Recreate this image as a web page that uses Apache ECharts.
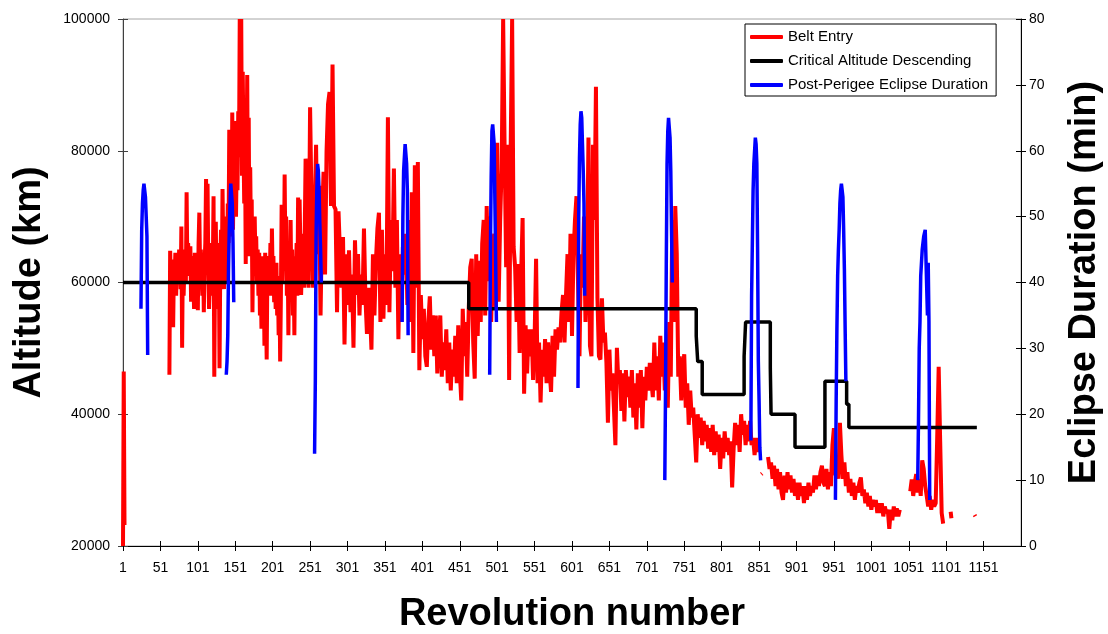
<!DOCTYPE html>
<html>
<head>
<meta charset="utf-8">
<script src="https://cdn.jsdelivr.net/npm/echarts@6/dist/echarts.min.js"></script>
<style>
  html, body { margin: 0; padding: 0; background: #ffffff; }
  #chart { width: 1108px; height: 634px; }
</style>
</head>
<body>
<div id="chart"></div>
<script>
// ---- Revolution axis tick labels ----
const revTicks = [1, 51, 101, 151, 201, 251, 301, 351, 401, 451, 501, 551, 601, 651, 701,
  751, 801, 851, 901, 951, 1001, 1051, 1101, 1151];

// ---- Belt Entry altitude (km); each run starts at a revolution and advances by its step ----
const beltRunA = { start: 1, step: 1 };
const beltA = [20000, 46500, 23200];

const beltRunB = { start: 63, step: 1 };
const beltB = [
  46000, 64800, 60000, 57000, 63500, 53200, 62000, 61000, 64500, 58000,
  63000, 61000, 60000, 65000, 62000, 59000, 68500, 50100, 64000, 58000,
  62000, 65000, 60000, 73700, 62000, 66000, 63000, 61000, 65500, 57100,
  64000, 62000, 60000, 56000, 64500, 62000, 59500, 64500, 55800, 66000,
  70600, 62000, 65000, 61000, 58000, 64000, 55500, 63000, 66000, 75700,
  64000, 75000, 62000, 56000, 60000, 64000, 58000, 66000, 62000, 73100,
  45700, 62000, 69200, 58000, 64000, 56000, 66000, 47000, 63000, 68000,
  60000, 74200, 65000, 59000, 70000, 63000, 68000, 60000, 72000, 66000,
  83200, 70000, 78000, 67000, 85800, 68000, 80000, 72000, 84500, 70000,
  79000, 74000, 86000, 79000, 100000, 84000, 100000, 76200, 92000, 80900,
  72000, 82000, 62800, 78000, 91500, 70000, 85000, 64000, 77500, 66000,
  72600, 55500, 68000, 61000, 70000, 63000, 67000, 60000, 65000, 58000,
  64500, 55000, 62000, 53000, 64000, 58000, 62000, 50400, 64500, 57000,
  48300, 63000, 59000, 64000, 60000, 66000, 58000, 68200, 61000, 64000,
  57000, 62000, 56000, 63000, 55000, 60000, 52000, 61000, 48000, 58000,
  71800, 60000, 66000, 62000, 76400, 64000, 70000, 58000, 66000, 52000,
  64000, 60000, 69500, 58000, 65000, 55000, 63000, 52000, 64000, 60000,
  66000, 58000, 72900, 62000
];

const beltRunC = { start: 237, step: 2 };
const beltC = [
  72600, 58100, 67400, 59200, 78800, 64300, 59200, 86600, 71600, 59200,
  69500, 80900, 64300, 74700, 55000, 69500, 76800, 61200, 79900, 87100,
  88900, 71600, 93100, 71600, 71100, 55500, 70800, 64300, 59200, 66900,
  50600, 64300, 56600, 64900, 55500, 61200, 50100, 66400, 58100, 64300,
  55000, 61200, 56600, 68200, 57600, 52200, 59200, 56000, 49800, 64300,
  55000, 63300, 68200, 70600, 54000, 68000, 54500, 64300, 56600, 85100,
  55500, 69500, 61700, 77300, 59200, 69500, 51400, 64300, 54000, 65400,
  61200, 67400, 56600, 69500, 54000, 73700, 49300, 77800, 59200, 78300,
  46700, 58100, 51400, 56000, 48800, 47200, 54000, 57900, 49800, 55000,
  48800, 55000, 46200, 51900, 55000, 45700, 50900, 46700, 52900, 44700,
  50900, 43600, 49800, 45700, 51900, 44700, 53500, 46700, 42100, 56000,
  48800, 54000, 45700, 56000, 62300, 63600, 50900
];

const beltRunD = { start: 471, step: 2 };
const beltD = [
  45400, 64300, 51900, 63300, 54000, 65900, 69500, 55000, 71600, 60200,
  70000, 54000, 64300, 67400, 56000, 81200, 57100, 69500, 77300, 100000,
  79900, 62300, 80900, 45200, 79900, 100000, 65400, 62300, 54000, 62800,
  49300, 61200, 69800, 43100, 53500, 46200, 52900, 48800, 52900, 45200,
  51400, 63600, 44700, 50900, 41800, 49800, 45700, 51400, 44700, 50900,
  46700, 43400, 51900, 45700, 52900, 49800, 53200, 50900, 55500, 58100,
  50900, 58100, 64300, 54000, 67400, 51900, 64300, 69500, 73100, 60200,
  48800, 64300, 59200, 70000, 54000, 61200, 82000, 50400, 48800, 80900,
  69500, 89700, 57600, 48800, 48300, 57600, 50900, 52400, 47800, 38700,
  49800, 43600, 46200, 41000, 35300, 50100, 44700, 46700, 40500, 46200,
  38900, 46700, 42600, 45700, 41000, 46700, 39500, 44700, 37700, 46200,
  41000, 46700, 37900, 45700, 42100, 47200, 43600, 47800
];

const beltRunE = { start: 707, step: 2 };
const beltE = [
  47800, 42600, 50900, 43600, 48800, 42100, 51900, 45700, 50900, 43600,
  48800, 41000, 54000, 45700, 69500, 54000, 71600, 64300, 45700, 48800,
  42100, 46700, 49100, 41000, 44700, 38400, 43600, 39500, 41000, 36900,
  32700, 40000, 36400, 39500, 35300, 39000, 35900, 38400, 34800, 37900,
  34300, 38400, 33800, 37400, 34300, 36900, 31700, 36400, 33300, 37400,
  34300, 36400, 33800, 35900, 28900, 34800, 38700, 35300, 38400, 34300,
  40000, 36900, 39000, 35300, 38400, 35900, 39000, 35300, 36400, 33800,
  36400, 34300, 35300
];

const beltRunF = { start: 854, step: 1 };
const beltF = [30900, 31000];

const beltRunG = { start: 863, step: 2 };
const beltG = [
  33500, 31700, 32700, 30200, 32200, 29100, 31700, 28600, 31200, 28100,
  27000, 30700, 28100, 31200, 28600, 30700, 28100, 30200, 27600, 29600,
  27000, 29600, 27600, 29100, 26500, 29100, 27000, 29600, 27600, 29100,
  28100, 30700, 28600, 30700, 29100, 31200, 32200, 29600
];

const beltRunH = { start: 939, step: 2 };
const beltH = [
  29100, 31700, 28600, 31200, 29100, 35300, 37900, 30700, 33300, 30200,
  38700, 33800, 30200, 32700, 29100, 31200, 28100, 30200, 27600, 29600,
  27000, 29100, 28100, 29600, 30400, 27600, 28600, 26500, 28100, 26000,
  27600, 25500, 27000, 26000, 27000, 25000, 26500, 25000, 26500, 24500,
  26000, 25000, 25500, 22600, 25500, 23900, 26000, 24500, 25700, 24500,
  25500
];

const beltRunI = { start: 1053, step: 2 };
const beltI = [
  28300, 30100, 27600, 29600, 30900, 28100, 30100, 27600, 33000, 31700,
  29100, 27600, 26000, 27600, 25500, 27000, 26000, 26500, 36400, 47200,
  35900, 25000, 23400
];

const beltRunJ = { start: 1107, step: 1 };
const beltJ = [25200, 24200];

const beltRunK = { start: 1139, step: 1 };
const beltK = [24700, 24500];

// ---- Critical Altitude Descending: [revolution where the level starts, altitude km] ----
const criticalRevs = [1, 463, 767, 769, 775, 831, 833, 866, 867, 899, 939, 968, 971, 1142];
const criticalAlt = [60000, 56000, 51900, 48000, 43000, 48800, 54000, 47000, 40000, 35000, 45000, 41500, 38000, 38000];

// ---- Post-Perigee Eclipse Duration (min), one run per eclipse season ----
const eclipseStarts = [25, 139, 257, 374, 491, 609, 725, 840, 953, 1063];
const eclipse1 = [36, 48, 52, 54, 55, 55, 53, 50, 47, 29];
const eclipse2 = [26, 28, 32, 42, 48, 52, 55, 55, 52, 46, 37];
const eclipse3 = [14, 25, 47, 54, 58, 57, 54, 49, 45, 40];
const eclipse4 = [34, 50, 57, 59, 61, 61, 58, 54, 32];
const eclipse5 = [26, 45, 56, 63, 64, 64, 61, 52, 43, 34];
const eclipse6 = [24, 50, 59, 64, 66, 65, 61, 57, 52, 38];
const eclipse7 = [10, 24, 43, 58, 63, 65, 65, 62, 57, 48, 40];
const eclipse8 = [16, 38, 46, 54, 58, 60, 62, 61, 58, 45, 28, 22, 15, 13];
const eclipse9 = [7, 22, 33, 41, 45, 48, 52, 54, 55, 54, 53, 48, 42, 33, 25];
const eclipse10 = [10, 19, 30, 34, 41, 43, 45, 46, 47, 47, 48, 48, 48, 35, 43, 34, 7];

// ---- build [rev, value] pairs, breaking the line across missing revolutions ----
function runsToPoints(runs) {
  const pts = [];
  let lastRev = null;
  runs.forEach(([run, values]) => {
    if (lastRev !== null && run.start - lastRev > 2) pts.push([lastRev + 1, null]);
    values.forEach((v, i) => {
      const rev = run.start + i * run.step;
      pts.push([rev, v]);
      lastRev = rev;
    });
  });
  return pts;
}

const beltPoints = runsToPoints([
  [beltRunA, beltA], [beltRunB, beltB], [beltRunC, beltC], [beltRunD, beltD],
  [beltRunE, beltE], [beltRunF, beltF], [beltRunG, beltG], [beltRunH, beltH],
  [beltRunI, beltI], [beltRunJ, beltJ], [beltRunK, beltK]
]);

const eclipseRuns = [eclipse1, eclipse2, eclipse3, eclipse4, eclipse5,
  eclipse6, eclipse7, eclipse8, eclipse9, eclipse10];
const eclipsePoints = runsToPoints(eclipseRuns.map((vals, k) => [{ start: eclipseStarts[k], step: 1 }, vals]));

const criticalPoints = criticalRevs.map((r, i) => [r, criticalAlt[i]]);

const FONT = '"Liberation Sans", Arial, sans-serif';
const REV_MIN = 1, REV_MAX = 1201;

const chart = echarts.init(document.getElementById('chart'), null, { renderer: 'canvas' });

const plain = v => String(v);
const tickLabel = { fontFamily: FONT, fontSize: 14, color: '#000', formatter: plain };
const titleStyle = { fontFamily: FONT, fontSize: 38, fontWeight: 'bold', color: '#000' };

chart.setOption({
  animation: false,
  backgroundColor: '#ffffff',
  grid: {
    left: 123, right: 87, top: 19, bottom: 88,
    containLabel: false, outerBoundsMode: 'none',
    show: true, borderColor: '#a6a6a6', borderWidth: 1, backgroundColor: '#ffffff'
  },
  legend: {
    orient: 'vertical',
    left: 745, top: 24,
    padding: [5, 8, 3, 5],
    itemGap: 8,
    itemWidth: 33, itemHeight: 4,
    icon: 'roundRect',
    backgroundColor: '#ffffff',
    borderColor: '#000000', borderWidth: 1,
    textStyle: { fontFamily: FONT, fontSize: 15, color: '#000', lineHeight: 16 },
    data: ['Belt Entry', 'Critical Altitude Descending', 'Post-Perigee Eclipse Duration']
  },
  xAxis: [
    {
      type: 'value', min: REV_MIN, max: REV_MAX,
      name: 'Revolution number', nameLocation: 'middle', nameGap: 50,
      nameTextStyle: titleStyle,
      splitLine: { show: false },
      axisLine: { show: true, lineStyle: { color: '#000', width: 1 } },
      axisTick: { show: true, length: 5, lineStyle: { color: '#000' }, customValues: revTicks },
      axisLabel: { ...tickLabel, margin: 15, customValues: revTicks }
    },
    {
      type: 'value', min: REV_MIN, max: REV_MAX, position: 'bottom',
      splitLine: { show: false }, axisLine: { show: false }, axisLabel: { show: false },
      axisTick: { show: true, inside: true, length: 5, lineStyle: { color: '#000' }, customValues: revTicks }
    }
  ],
  yAxis: [
    {
      type: 'value', min: 20000, max: 100000, interval: 20000, position: 'left',
      name: 'Altitude (km)', nameLocation: 'middle', nameGap: 74, nameRotate: 90,
      nameTextStyle: titleStyle,
      splitLine: { show: false },
      axisLine: { show: true, lineStyle: { color: '#404040', width: 1 } },
      axisTick: { show: true, length: 5, lineStyle: { color: '#404040' } },
      axisLabel: { ...tickLabel, margin: 13 }
    },
    {
      type: 'value', min: 0, max: 80, interval: 10, position: 'right',
      name: 'Eclipse Duration (min)', nameLocation: 'middle', nameGap: 45, nameRotate: 90,
      nameTextStyle: titleStyle,
      splitLine: { show: false },
      axisLine: { show: true, lineStyle: { color: '#000', width: 1 } },
      axisTick: { show: true, length: 5, lineStyle: { color: '#000' } },
      axisLabel: { ...tickLabel, margin: 8 }
    },
    {
      type: 'value', min: 20000, max: 100000, interval: 20000, position: 'left',
      splitLine: { show: false }, axisLine: { show: false }, axisLabel: { show: false },
      axisTick: { show: true, inside: true, length: 5, lineStyle: { color: '#404040' } }
    },
    {
      type: 'value', min: 0, max: 80, interval: 10, position: 'right',
      splitLine: { show: false }, axisLine: { show: false }, axisLabel: { show: false },
      axisTick: { show: true, inside: true, length: 5, lineStyle: { color: '#000' } }
    }
  ],
  series: [
    {
      name: 'Belt Entry', type: 'line', xAxisIndex: 0, yAxisIndex: 0,
      data: beltPoints, showSymbol: false, symbol: 'none', connectNulls: false,
      color: '#ff0000', lineStyle: { color: '#ff0000', width: 4 }, z: 2
    },
    {
      name: 'Critical Altitude Descending', type: 'line', xAxisIndex: 0, yAxisIndex: 0,
      data: criticalPoints, step: 'end', showSymbol: false, symbol: 'none',
      color: '#000000', lineStyle: { color: '#000000', width: 3.5 }, z: 3
    },
    {
      name: 'Post-Perigee Eclipse Duration', type: 'line', xAxisIndex: 0, yAxisIndex: 1,
      data: eclipsePoints, showSymbol: false, symbol: 'none', connectNulls: false,
      color: '#0000ff', lineStyle: { color: '#0000ff', width: 3.5 }, z: 4
    }
  ]
});
</script>
</body>
</html>
